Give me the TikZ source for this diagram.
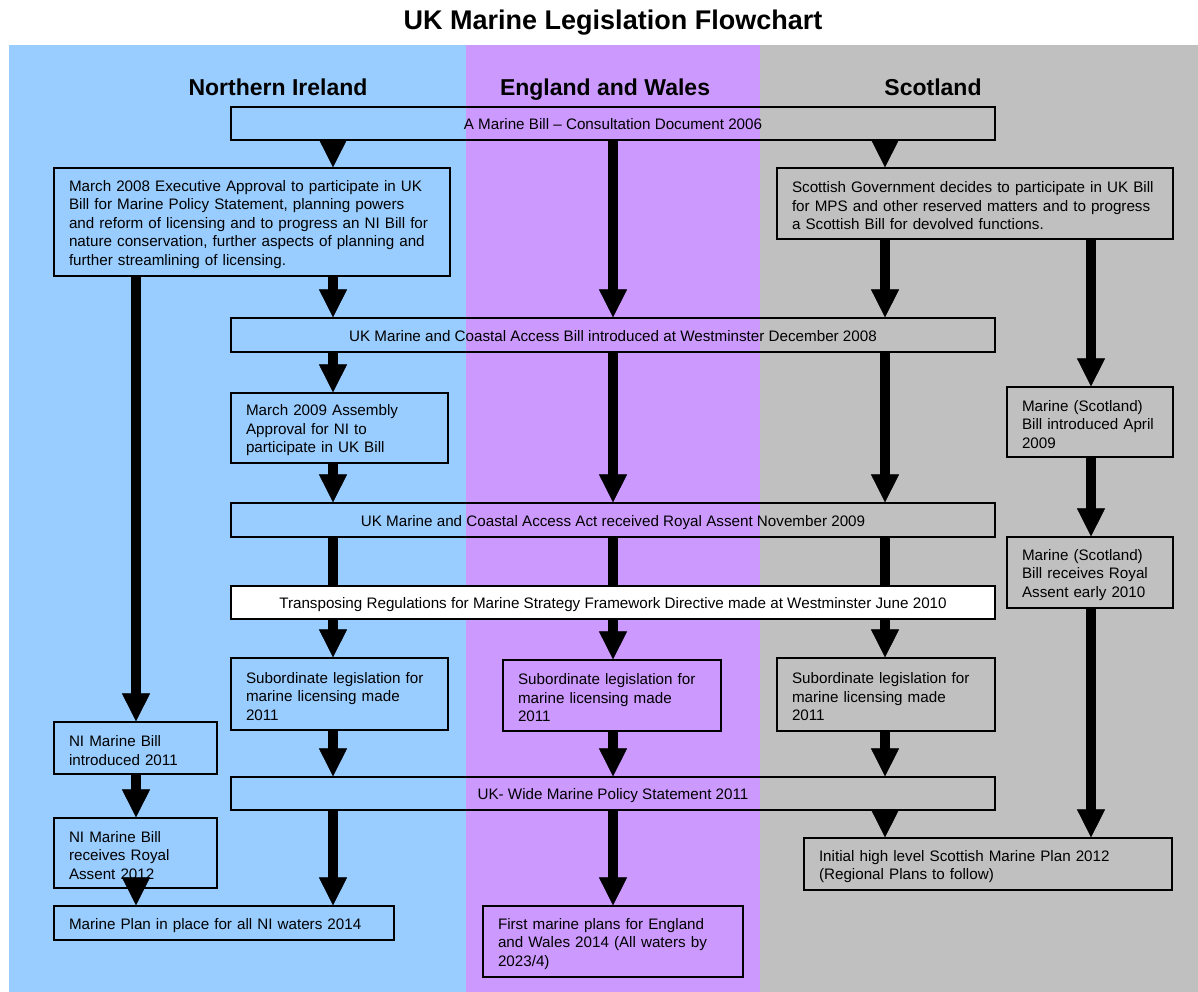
\documentclass[tikz,border=0pt]{standalone}
\usepackage{fontspec}
\setmainfont{Liberation Sans}
\usepackage{tikz}
\usetikzlibrary{
  arrows.meta,
  positioning
}
\definecolor{niblue}{HTML}{99CCFF}
\definecolor{ewpurple}{HTML}{CC99FF}
\definecolor{scgrey}{HTML}{C0C0C0}
\newcommand{\boxfont}{\fontsize{15.2}{18.5}\selectfont}

\begin{document}
\begin{tikzpicture}[
    x=1pt,y=-1pt,
    stage/.style={
    draw,
    line width=1.2pt,
    inner xsep=15pt,
    inner ysep=0pt,
    align=left,
    font=\boxfont,
    execute at begin node={\rule{0pt}{16pt}}
    },
    wide/.style={
    draw,
    line width=1.2pt,
    minimum width=764pt,
    minimum height=33pt,
    inner sep=0pt,
    text height=12.5pt,
    text depth=0pt,
    align=center,
    font=\boxfont
    },
    header/.style={anchor=base,font=\bfseries\fontsize{23}{26}\selectfont},
    flow/.style={line width=10pt,-{Triangle[width=28pt,length=28pt,line width=0.6pt]}},
    bar/.style={line width=10pt}
    ]

    \useasboundingbox (0,0) rectangle (1198,992);

    % column bands
    \fill[niblue] (9,45) rectangle (466,992);
    \fill[ewpurple] (466,45) rectangle (760,992);
    \fill[scgrey] (760,45) rectangle (1198,992);

    \node[anchor=base,font=\bfseries\fontsize{27}{30}\selectfont] (title) at (613,30)
    {UK Marine Legislation Flowchart};

    \node[header] (hni) at (278,95.5) {Northern Ireland};
    \node[header] (hew) at (605,95.5) {England and Wales};
    \node[header] (hsc) at (933,95.5) {Scotland};

    % arrow columns
    \coordinate (cni) at (333,0);
    \coordinate (cew) at (613,0);
    \coordinate (csc) at (885,0);
    \coordinate (cnio) at (136,0);
    \coordinate (csco) at (1091,0);

    \node[wide] (consult) at (613,123.5)
    {A Marine Bill -- Consultation Document 2006};

    \node[stage,text width=366pt,minimum height=108pt] (ni2008) at (252,222)
    {March 2008 Executive Approval to participate in UK\\
    Bill for Marine Policy Statement, planning powers\\
    and reform of licensing and to progress an NI Bill for\\
    nature conservation, further aspects of planning and\\
    further streamlining of licensing.};

    \node[stage,text width=366pt,minimum height=71pt] (scgov) at (975,203.5)
    {Scottish Government decides to participate in UK Bill\\
    for MPS and other reserved matters and to progress\\
    a Scottish Bill for devolved functions.};

    \node[wide,minimum height=34pt] (ukbill) at (613,335)
    {UK Marine and Coastal Access Bill introduced at Westminster December 2008};

    \node[stage,text width=187pt,minimum height=70pt] (ni2009) at (339.5,428)
    {March 2009 Assembly\\Approval for NI to\\participate in UK Bill};

    \node[stage,text width=136pt,minimum height=70pt] (scintro) at (1090,422)
    {Marine (Scotland)\\Bill introduced April\\2009};

    \node[wide,minimum height=34pt] (ukact) at (613,520)
    {UK Marine and Coastal Access Act received Royal Assent November 2009};

    \node[stage,text width=136pt,minimum height=71pt] (scassent) at (1090,572.5)
    {Marine (Scotland)\\Bill receives Royal\\Assent early 2010};

    \node[wide,fill=white] (transp) at (613,602.5)
    {Transposing Regulations for Marine Strategy Framework Directive made at Westminster June 2010};

    \node[stage,text width=187pt,minimum height=72pt] (subni) at (339.5,694)
    {Subordinate legislation for\\marine licensing made\\2011};
    \node[stage,text width=188pt,minimum height=71pt] (subew) at (612,695.5)
    {Subordinate legislation for\\marine licensing made\\2011};
    \node[stage,text width=188pt,minimum height=73pt] (subsc) at (886,694.5)
    {Subordinate legislation for\\marine licensing made\\2011};

    \node[stage,text width=133pt,minimum height=52pt] (niintro) at (135.5,748)
    {NI Marine Bill\\introduced 2011};

    \node[wide] (ukmps) at (613,793.5)
    {UK- Wide Marine Policy Statement 2011};

    \node[stage,text width=133pt,minimum height=70pt] (niassent) at (135.5,853)
    {NI Marine Bill\\receives Royal\\Assent 2012};

    \node[stage,text width=338pt,minimum height=52pt] (scplan) at (988,864)
    {Initial high level Scottish Marine Plan 2012\\(Regional Plans to follow)};

    \node[stage,text width=310pt,minimum height=34pt] (niplan) at (224,923)
    {Marine Plan in place for all NI waters 2014};

    \node[stage,text width=230pt,minimum height=71pt] (ewplan) at (613,941.5)
    {First marine plans for England\\and Wales 2014 (All waters by\\2023/4)};

    % Northern Ireland
    \draw[flow](consult.south -| cni)--(ni2008.north -| cni);
    \draw[flow](ni2008.south -| cni)--(ukbill.north -| cni);
    \draw[flow](ukbill.south -| cni)--(ni2009.north -| cni);
    \draw[flow](ni2009.south -| cni)--(ukact.north -| cni);
    \draw[bar](ukact.south -| cni)--(transp.north -| cni);
    \draw[flow](transp.south -| cni)--(subni.north -| cni);
    \draw[flow](subni.south -| cni)--(ukmps.north -| cni);
    \draw[flow](ukmps.south -| cni)--(niplan.north -| cni);
    \draw[flow](ni2008.south -| cnio)--(niintro.north -| cnio);
    \draw[flow](niintro.south -| cnio)--(niassent.north -| cnio);
    \draw[flow](niassent.south -| cnio)--(niplan.north -| cnio);

    % England and Wales
    \draw[flow](consult.south -| cew)--(ukbill.north -| cew);
    \draw[flow](ukbill.south -| cew)--(ukact.north -| cew);
    \draw[bar](ukact.south -| cew)--(transp.north -| cew);
    \draw[flow](transp.south -| cew)--(subew.north -| cew);
    \draw[flow](subew.south -| cew)--(ukmps.north -| cew);
    \draw[flow](ukmps.south -| cew)--(ewplan.north -| cew);

    % Scotland
    \draw[flow](consult.south -| csc)--(scgov.north -| csc);
    \draw[flow](scgov.south -| csc)--(ukbill.north -| csc);
    \draw[flow](ukbill.south -| csc)--(ukact.north -| csc);
    \draw[bar](ukact.south -| csc)--(transp.north -| csc);
    \draw[flow](transp.south -| csc)--(subsc.north -| csc);
    \draw[flow](subsc.south -| csc)--(ukmps.north -| csc);
    \draw[flow](ukmps.south -| csc)--(scplan.north -| csc);
    \draw[flow](scgov.south -| csco)--(scintro.north -| csco);
    \draw[flow](scintro.south -| csco)--(scassent.north -| csco);
    \draw[flow](scassent.south -| csco)--(scplan.north -| csco);

\end{tikzpicture}
\end{document}
